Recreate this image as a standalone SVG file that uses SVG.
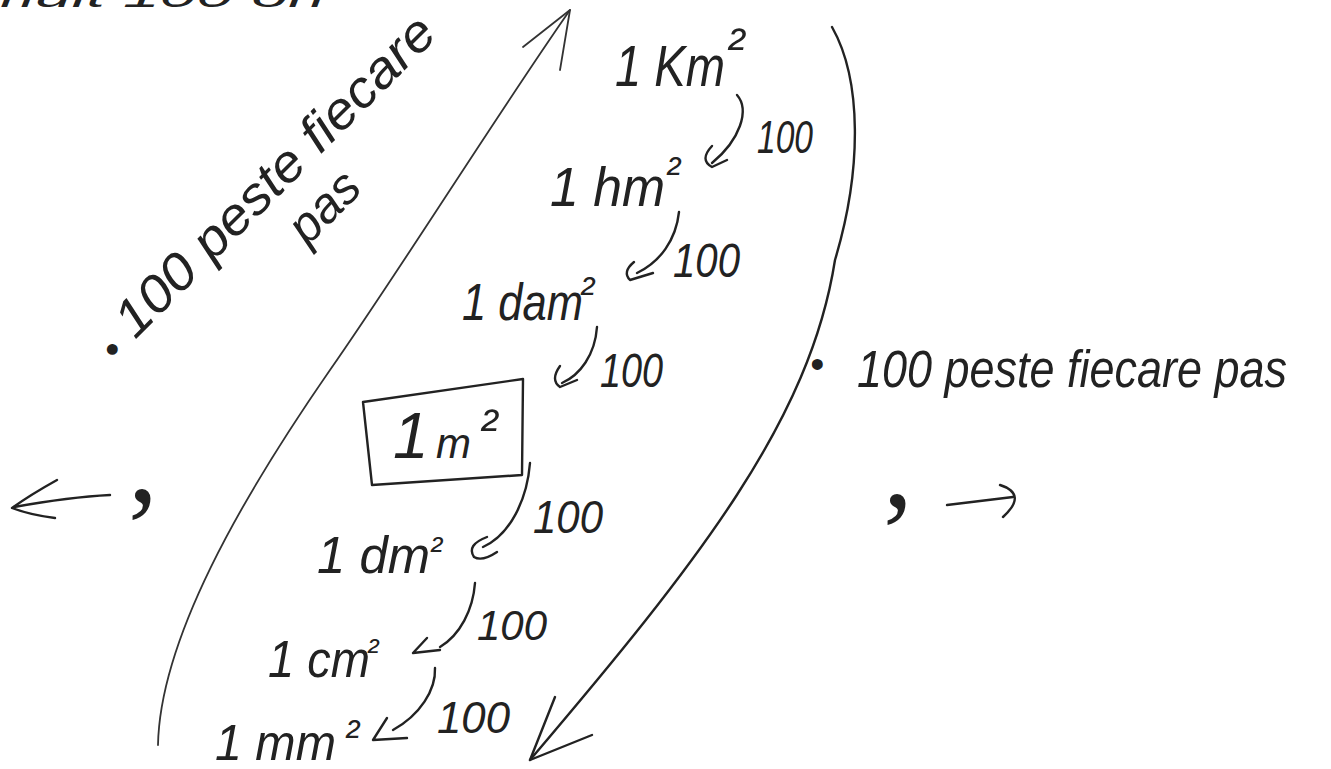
<svg xmlns="http://www.w3.org/2000/svg" width="1331" height="769" viewBox="0 0 1331 769">
<style>
.hw{font-family:"Liberation Sans","DejaVu Sans",sans-serif;font-style:italic;fill:#222}
.cm{font-family:"Liberation Serif","DejaVu Serif",serif;fill:#222}
.ln{fill:none;stroke:#222;stroke-width:2.4;stroke-linecap:round;stroke-linejoin:round}
.thin{fill:none;stroke:#333;stroke-width:1.8;stroke-linecap:round;stroke-linejoin:round}
</style>
<rect width="1331" height="769" fill="#fff"/>

<g id="top-note"><text class="hw" x="-20" y="7" font-size="34" textLength="345" lengthAdjust="spacingAndGlyphs">mult 100 ori</text></g>

<g id="node-km2"><text class="hw" x="615" y="86" font-size="58"><tspan textLength="110" lengthAdjust="spacingAndGlyphs">1 Km</tspan><tspan x="727" y="64" font-size="52">²</tspan></text></g>
<g id="node-hm2"><text class="hw" x="550" y="206" font-size="56"><tspan textLength="115" lengthAdjust="spacingAndGlyphs">1 hm</tspan><tspan x="666" y="187" font-size="42">²</tspan></text></g>
<g id="node-dam2"><text class="hw" x="462" y="320" font-size="52"><tspan textLength="121" lengthAdjust="spacingAndGlyphs">1 dam</tspan><tspan x="580" y="307" font-size="42">²</tspan></text></g>

<g id="node-m2">
<path class="ln" d="M363,402 L523,379 L522,475 L372,485 Z"/>
<text class="hw" x="393" y="458" font-size="64" font-style="normal">1<tspan x="436" font-size="42">m</tspan><tspan x="480" y="445" font-size="52">²</tspan></text>
</g>

<g id="node-dm2"><text class="hw" x="317" y="573" font-size="52"><tspan textLength="113" lengthAdjust="spacingAndGlyphs">1 dm</tspan><tspan x="430" y="562" font-size="36">²</tspan></text></g>
<g id="node-cm2"><text class="hw" x="268" y="677" font-size="52"><tspan textLength="102" lengthAdjust="spacingAndGlyphs">1 cm</tspan><tspan x="367" y="662" font-size="34">²</tspan></text></g>
<g id="node-mm2"><text class="hw" x="215" y="760" font-size="50"><tspan textLength="121" lengthAdjust="spacingAndGlyphs">1 mm</tspan><tspan x="345" y="750" font-size="42">²</tspan></text></g>

<g id="factors">
<text class="hw" x="757" y="153" font-size="46" textLength="56" lengthAdjust="spacingAndGlyphs">100</text>
<text class="hw" x="673" y="277" font-size="48" textLength="67" lengthAdjust="spacingAndGlyphs">100</text>
<text class="hw" x="600" y="387" font-size="48" textLength="63" lengthAdjust="spacingAndGlyphs">100</text>
<text class="hw" x="533" y="533" font-size="46" textLength="70" lengthAdjust="spacingAndGlyphs">100</text>
<text class="hw" x="477" y="640" font-size="42" textLength="70" lengthAdjust="spacingAndGlyphs">100</text>
<text class="hw" x="437" y="733" font-size="44" textLength="73" lengthAdjust="spacingAndGlyphs">100</text>
</g>

<g id="note-left" transform="translate(135,340) rotate(-45)">
<text class="hw" x="-30" y="4" font-size="40">•</text>
<text class="hw" x="0" y="0" font-size="52" textLength="430" lengthAdjust="spacingAndGlyphs">100 peste fiecare</text>
<text class="hw" x="188" y="56" font-size="50" textLength="80" lengthAdjust="spacingAndGlyphs">pas</text>
</g>

<g id="note-right">
<text class="hw" x="810" y="378" font-size="40">•</text>
<text class="hw" transform="translate(857,387) scale(1,1.18)" x="0" y="0" font-size="44" textLength="430" lengthAdjust="spacingAndGlyphs">100 peste fiecare pas</text>
</g>

<g id="comma-left"><text class="cm" x="128" y="501" font-size="120">,</text></g>
<g id="comma-right"><text class="cm" x="883" y="506" font-size="120">,</text></g>

<g id="connectors">
<path class="thin" d="M158,745 C160,640 240,500 330,370 C400,270 500,110 570,10"/>
<path class="thin" d="M523,47 L570,10 L560,70"/>
<path class="ln" d="M832,27 C862,80 862,170 835,260 C810,420 700,560 530,760"/>
<path class="ln" d="M555,697 L530,760 L592,735"/>

<path class="ln" d="M737,95 C750,110 740,140 712,163"/>
<path class="ln" d="M712,146 Q699,160 712,167 L727,160"/>
<path class="ln" d="M679,212 C676,240 660,262 637,273"/>
<path class="ln" d="M634,262 Q622,272 630,280 L653,273"/>
<path class="ln" d="M597,327 C595,355 580,375 562,383"/>
<path class="ln" d="M560,366 Q550,380 560,387 L577,380"/>
<path class="ln" d="M530,463 C527,500 510,535 483,547"/>
<path class="ln" d="M487,537 Q466,545 474,557 Q482,562 497,552"/>
<path class="ln" d="M475,583 C473,610 460,635 440,647"/>
<path class="ln" d="M427,638 L413,653 L440,650"/>
<path class="ln" d="M435,668 C436,690 420,715 393,730"/>
<path class="ln" d="M387,718 L373,740 L407,738"/>

<path class="ln" d="M110,495 Q70,497 14,507"/>
<path class="ln" d="M57,480 Q30,495 12,508 Q30,515 55,518"/>
<path class="ln" d="M947,505 L1013,497"/>
<path class="ln" d="M1000,485 Q1028,494 1003,517"/>
</g>
</svg>
